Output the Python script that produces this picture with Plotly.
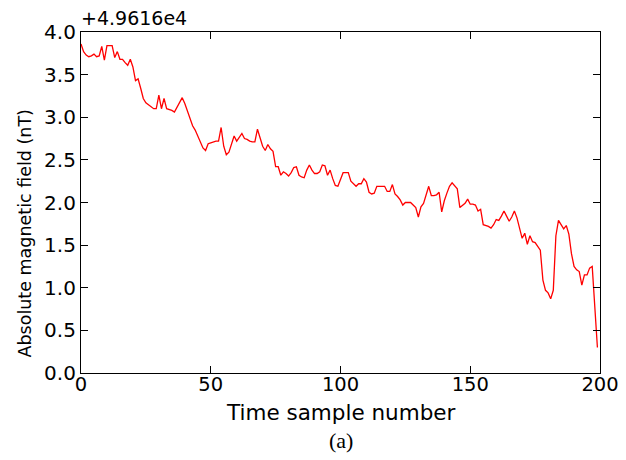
import plotly.graph_objects as go

# Time sample index
samples = list(range(200))

# Absolute magnetic field minus offset 49616 nT
field_offset = [
    3.86, 3.77, 3.73, 3.71, 3.72, 3.74, 3.71, 3.72, 3.83, 3.67,
    3.84, 3.84, 3.84, 3.70, 3.77, 3.68, 3.68, 3.64, 3.61, 3.68,
    3.59, 3.43, 3.45, 3.34, 3.22, 3.17, 3.15, 3.13, 3.10, 3.10,
    3.26, 3.10, 3.22, 3.10, 3.09, 3.08, 3.06, 3.12, 3.17, 3.23,
    3.16, 3.08, 2.98, 2.90, 2.85, 2.78, 2.70, 2.64, 2.61, 2.69,
    2.70, 2.71, 2.72, 2.72, 2.88, 2.66, 2.56, 2.59, 2.68, 2.78,
    2.72, 2.76, 2.81, 2.75, 2.74, 2.72, 2.71, 2.71, 2.86, 2.76,
    2.66, 2.61, 2.68, 2.63, 2.60, 2.42, 2.42, 2.32, 2.36, 2.34,
    2.31, 2.35, 2.41, 2.42, 2.32, 2.30, 2.29, 2.38, 2.44, 2.38,
    2.34, 2.34, 2.36, 2.44, 2.43, 2.32, 2.38, 2.28, 2.20, 2.19,
    2.27, 2.35, 2.35, 2.35, 2.25, 2.22, 2.19, 2.22, 2.22, 2.28,
    2.24, 2.12, 2.10, 2.11, 2.19, 2.19, 2.19, 2.19, 2.13, 2.13,
    2.21, 2.10, 2.07, 2.03, 1.97, 2.00, 2.00, 2.00, 1.97, 1.94,
    1.83, 1.95, 1.99, 2.10, 2.19, 2.08, 2.08, 2.09, 2.12, 1.89,
    2.02, 2.11, 2.19, 2.23, 2.19, 2.16, 1.94, 1.96, 1.99, 2.04,
    1.98, 1.98, 1.97, 1.90, 1.92, 1.74, 1.73, 1.72, 1.70, 1.74,
    1.80, 1.79, 1.84, 1.90, 1.84, 1.78, 1.83, 1.90, 1.82, 1.71,
    1.58, 1.64, 1.51, 1.61, 1.54, 1.53, 1.49, 1.44, 1.09, 0.97,
    0.94, 0.87, 0.97, 1.61, 1.79, 1.74, 1.69, 1.73, 1.63, 1.40,
    1.25, 1.21, 1.19, 1.03, 1.15, 1.15, 1.23, 1.25, 0.77, 0.30,
]

x_ticks = [0, 50, 100, 150, 200]
y_ticks = [0.0, 0.5, 1.0, 1.5, 2.0, 2.5, 3.0, 3.5, 4.0]
y_tick_labels = [f"{v:.1f}" for v in y_ticks]

font_main = "DejaVu Sans"

fig = go.Figure()
fig.add_trace(go.Scatter(
    x=samples, y=field_offset, mode="lines",
    line=dict(color="#ff0000", width=1.3),
    showlegend=False,
))

axis_common = dict(
    showgrid=False, zeroline=False,
    showline=True, linecolor="black", linewidth=1.2,
    mirror="ticks", ticks="inside", ticklen=7, tickwidth=1,
    tickcolor="black",
)

fig.update_layout(
    width=626, height=460,
    paper_bgcolor="white", plot_bgcolor="white",
    margin=dict(l=73, r=34, t=18, b=95),
    xaxis=dict(range=[0, 200], tickvals=x_ticks, ticklabelstandoff=-7,
               tickfont=dict(family=font_main, size=19.5, color="black"),
               **axis_common),
    yaxis=dict(range=[0, 4.0], tickvals=y_ticks, ticktext=y_tick_labels,
               tickfont=dict(family=font_main, size=20, color="black"),
               **axis_common),
    annotations=[
        dict(text="+4.9616e4", xref="paper", yref="paper", x=0.0, y=1.0,
             xanchor="left", yanchor="bottom", xshift=-2, yshift=1,
             showarrow=False,
             font=dict(family=font_main, size=19, color="black")),
        dict(text="Time sample number", xref="paper", yref="paper",
             x=0.5, y=0, yshift=-39, xanchor="center", yanchor="middle",
             showarrow=False,
             font=dict(family=font_main, size=21.5, color="black")),
        dict(text="Absolute magnetic field (nT)", xref="paper", yref="paper",
             x=0, y=0.5, xshift=-57, yshift=-31, xanchor="center",
             yanchor="middle", textangle=-90, showarrow=False,
             font=dict(family=font_main, size=17.5, color="black")),
        dict(text="(a)", xref="paper", yref="paper",
             x=0.5, y=0, yshift=-67, xanchor="center", yanchor="middle",
             showarrow=False,
             font=dict(family="Liberation Serif", size=22, color="black")),
    ],
)

fig.write_html("out.html")
